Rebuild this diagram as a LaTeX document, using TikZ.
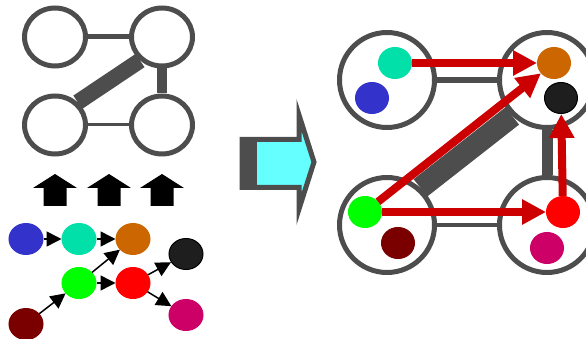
\documentclass[tikz,border=0pt]{standalone}
\usepackage{xcolor}
\usepackage{tikz}
\usetikzlibrary{shapes.geometric}
\usetikzlibrary{arrows.meta}
\usetikzlibrary{backgrounds}
\definecolor{linkgray}{HTML}{4D4D4D}
\definecolor{arrowred}{HTML}{CC0000}
\definecolor{flowcyan}{HTML}{66FFFF}
\definecolor{dotblue}{HTML}{3333CC}
\definecolor{dotmint}{HTML}{00E0A8}
\definecolor{dotorange}{HTML}{CC6600}
\definecolor{dotblack}{HTML}{1E1E1E}
\definecolor{dotgreen}{HTML}{00FF00}
\definecolor{dotred}{HTML}{FF0000}
\definecolor{dotmaroon}{HTML}{7A0000}
\definecolor{dotmagenta}{HTML}{CC0066}
\tikzset{
grpnode/.style={
  ellipse,
  draw=linkgray,
  line width=5pt,
  fill=white,
  minimum width=61pt,
  minimum height=58pt,
  inner sep=0pt
},
cluster/.style={circle,draw=linkgray,line width=5pt,fill=white,minimum size=95pt,inner sep=0pt},
ball/.style={ellipse,inner sep=0pt,minimum width=33pt,minimum height=31pt},
link/.style={draw=linkgray,line width=#1},
wlink/.style={draw=white,line width=#1+2pt,postaction={draw=linkgray,line width=#1}},
flow/.style={-{Triangle[length=15pt,width=15pt]},line width=1.5pt},
bigflow/.style={-{Triangle[length=24pt,width=24pt]},line width=8pt,draw=arrowred,fill=arrowred},
}

\begin{document}
\begin{tikzpicture}[x=1pt,y=-1pt]
\useasboundingbox (0,0) rectangle (586,339);
\clip (0,0) rectangle (586,339);
% the small graph
\node[grpnode] (ga) at (55,37) {};
\node[grpnode] (gb) at (162,37) {};
\node[grpnode] (gc) at (55,125) {};
\node[grpnode] (gd) at (162,125) {};
\begin{scope}[on background layer]
  \draw[link=5pt] (ga) -- (gb);
  \draw[link=10pt] (gb) -- (gd);
  \draw[link=3pt] (gc) -- (gd);
  \draw[link=16pt] (gc.45) -- (gb.227);
\end{scope}
% the up arrows
\foreach \x in {55,109,162}
{
  \fill (\x-11.5,206) -- (\x-11.5,188) -- (\x-22,188) -- (\x,174) --
    (\x+22,188) -- (\x+11.5,188) -- (\x+11.5,206) -- cycle;
}
% the small dots
\foreach \n/\x/\y/\c/\o in {blue/26/239/dotblue/dotblue, mint/79/239/dotmint/dotmint,
  orange/133/239/dotorange/dotorange, black/186/254/dotblack/black,
  green/79/283/dotgreen/dotgreen, red/133/283/dotred/dotred,
  maroon/26/324/dotmaroon/dotmaroon, magenta/186/315/dotmagenta/dotmagenta}
{
  \node[ball,minimum width=34pt,fill=\c,draw=\o,line width=1pt] (l\n) at (\x,\y) {};
}
\draw[flow] (lblue) -- (lmint);
\draw[flow] (lmint) -- (lorange);
\draw[flow] (lgreen) -- (lorange);
\draw[flow] (lgreen) -- (lred);
\draw[flow] (lmaroon) -- (lgreen);
\draw[flow] (lred) -- (lblack);
\draw[flow] (lred) -- (lmagenta);
% the block arrow
\draw[linkgray,line width=5pt,line join=miter,fill=flowcyan]
  (242,139.5) -- (299,139.5) -- (299,115) -- (314,162) -- (299,209) --
  (299,187.5) -- (242,187.5) -- cycle;
\fill[linkgray] (240,137) rectangle (257,190);
% the clustered graph
\node[cluster] (ra) at (387,80) {};
\node[cluster] (rb) at (547,80) {};
\node[cluster] (rc) at (387,225) {};
\node[cluster] (rd) at (547,225) {};
\begin{scope}[on background layer]
  \draw[wlink=6pt] (ra) -- (rb);
  \draw[wlink=11pt] (rb) -- (rd);
  \draw[wlink=4pt] (rc) -- (rd);
  \draw[wlink=22pt] (rc.48) -- (rb.226);
\end{scope}
\foreach \n/\x/\y/\c/\o in {mint/395/63/dotmint/dotmint, blue/372/98/dotblue/dotblue,
  orange/554/63/dotorange/dotorange, black/561/98/dotblack/black,
  green/365/212/dotgreen/dotgreen, maroon/398/243/dotmaroon/dotmaroon,
  red/563/212/dotred/dotred, magenta/547/248/dotmagenta/dotmagenta}
{
  \node[ball,fill=\c,draw=\o,line width=1pt] (r\n) at (\x,\y) {};
}
% the red arrows
\draw[bigflow] (rmint) -- (rorange);
\draw[bigflow] (rgreen) -- (rorange);
\draw[bigflow] (rgreen) -- (rred);
\draw[bigflow] (rred) -- (rblack);
\end{tikzpicture}
\end{document}
